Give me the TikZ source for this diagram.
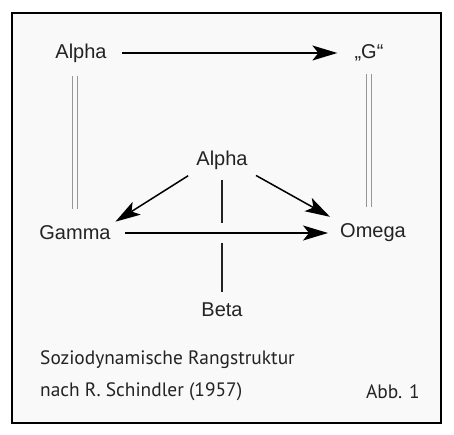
\documentclass[tikz,border=0pt]{standalone}
\usepackage{fontspec}
\setmainfont{Liberation Sans}
\newfontfamily\captionfont{PT Sans}
\usepackage{xcolor}
\usetikzlibrary{
  arrows.meta,
  positioning,
  calc
}
\definecolor{rankgray}{RGB}{35, 35, 35}
\definecolor{linegray}{RGB}{150, 150, 150}
\definecolor{panelbg}{RGB}{249, 249, 249}

\tikzset{
  rank/.style={text=rankgray, font=\fontsize{20}{24}\selectfont, inner sep=3pt},
  arr/.style={draw=black, line width=1.5pt,
              -{Stealth[length=25pt, width=15pt, inset=6pt]}},
  dbl/.style={draw=linegray, line width=1.3pt, double=panelbg, double distance=3.6pt},
  plain/.style={draw=rankgray, line width=1.3pt},
  capt/.style={text=rankgray, font=\captionfont\fontsize{19.4}{23}\selectfont, inner sep=0pt}
}

\begin{document}
\begin{tikzpicture}[x=1pt, y=1pt]
\useasboundingbox (0,0) rectangle (454,434);
\draw[line width=2pt, fill=panelbg] (12,11) rectangle (441,421);

% rank positions
\node[rank] (alphatop) at (81,381) {Alpha};
\node[rank] (gtop)     at (369,381) {„G“};
\node[rank] (alphamid) at (222,274) {Alpha};
\node[rank] (gamma)    at (75,201) {Gamma};
\node[rank] (omega)    at (373,201) {Omega};
\node[rank] (beta)     at (222,124) {Beta};
\coordinate (cross) at (alphamid |- gamma);

% connectors
\draw[arr, shorten <=12pt, shorten >=14pt] (alphatop.east) -- (gtop.west);
\draw[dbl, shorten <=10pt, shorten >=14pt] (alphatop.south -| gamma.north) -- (gamma.north);
\draw[dbl, shorten <=10pt, shorten >=14pt] (gtop.south) -- (gtop.south |- omega.north);
\draw[arr, shorten <=6pt, shorten >=2pt] (alphamid.south west) -- (gamma.north east);
\draw[arr, shorten <=6pt, shorten >=8pt] (alphamid.south east) -- (omega.north west);
\draw[arr, shorten <=11pt, shorten >=9pt] (gamma.east) -- (omega.west);
\draw[plain, shorten <=7pt] (alphamid.south) -- ($(cross)+(0,10)$);
\draw[plain, shorten >=8pt] ($(cross)+(0,-10)$) -- (beta.north);

% caption
\node[capt, anchor=west] (capa) at (40,74) {Soziodynamische Rangstruktur};
\node[capt, anchor=west] (capb) at (40,42) {nach R. Schindler (1957)};
\node[capt, anchor=east] (abb)  at (420,42) {Abb. 1};
\end{tikzpicture}
\end{document}
